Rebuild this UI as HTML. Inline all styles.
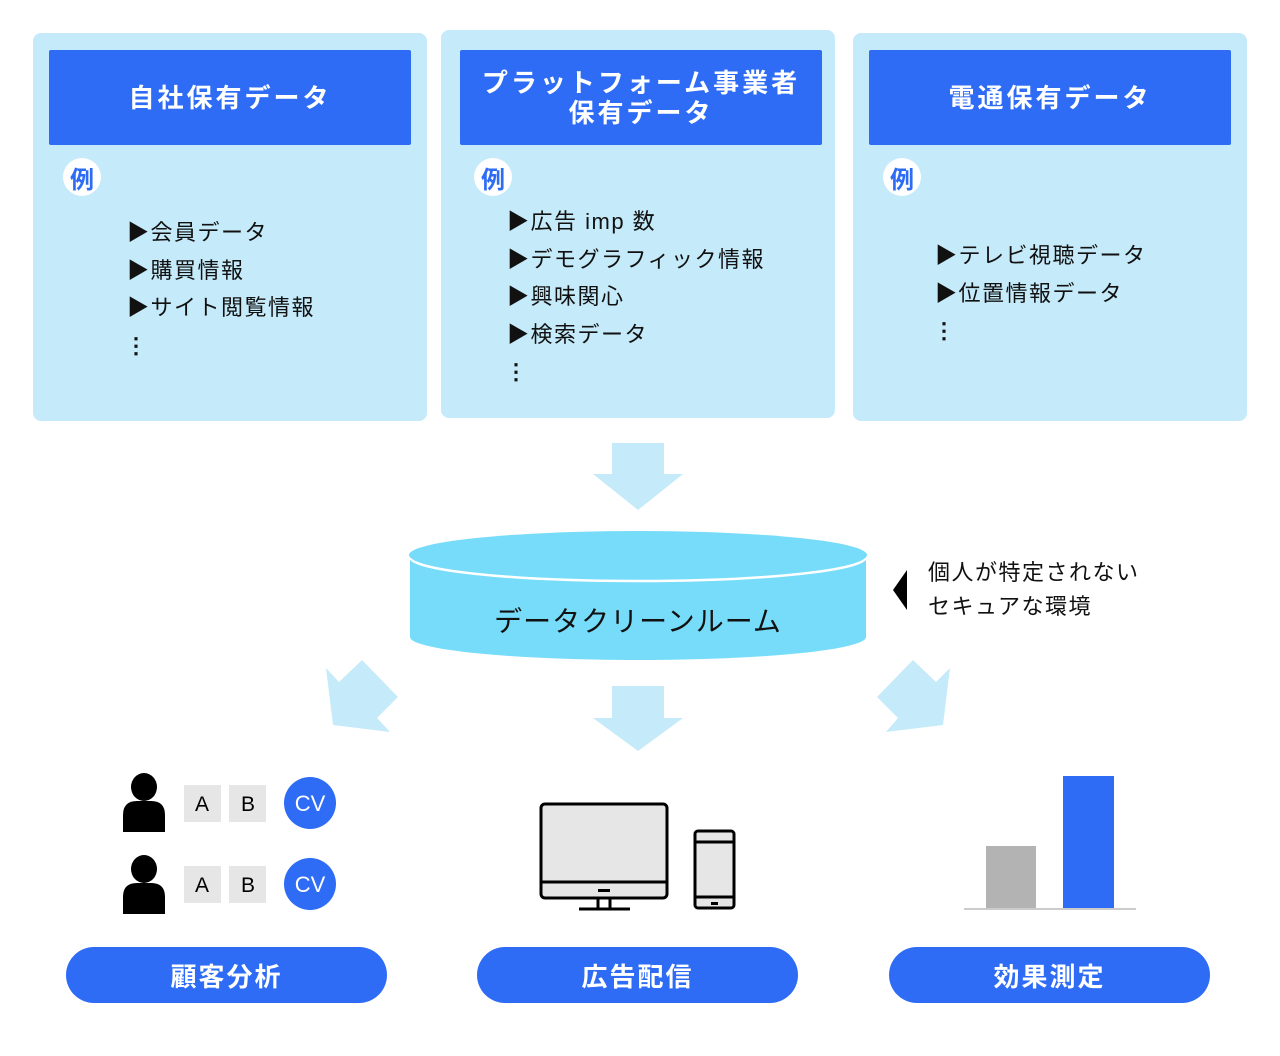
<!DOCTYPE html>
<html><head><meta charset="utf-8"><style>
body{margin:0;width:1280px;height:1056px;background:#fff;position:relative;font-family:"Liberation Sans","Noto Sans CJK JP",sans-serif;overflow:hidden}
.a{position:absolute}
.panel{position:absolute;background:#c5eaf9;border-radius:8px}
.hdr{position:absolute;background:#2e6cf6;color:#fff;font-weight:bold;font-size:26px;letter-spacing:3px;display:flex;align-items:center;justify-content:center;text-align:center;line-height:30px;border-radius:2px}
.rei{position:absolute;width:38px;height:38px;border-radius:50%;background:#fff;color:#2e6cf6;font-size:24px;font-weight:bold;display:flex;align-items:center;justify-content:center}
.list{position:absolute;font-size:22px;line-height:37.5px;letter-spacing:1.5px;color:#111}
.dots{font-weight:bold;margin-left:-2px}
.pill{position:absolute;height:56px;border-radius:28px;background:#2e6cf6;color:#fff;font-size:26px;font-weight:bold;letter-spacing:2px;display:flex;align-items:center;justify-content:center}
</style></head><body>
<div class="panel" style="left:33px;top:33px;width:394px;height:388px"></div>
<div class="panel" style="left:441px;top:30px;width:394px;height:388px"></div>
<div class="panel" style="left:853px;top:33px;width:394px;height:388px"></div>
<div class="hdr" style="left:49px;top:50px;width:362px;height:95px">自社保有データ</div>
<div class="hdr" style="left:460px;top:50px;width:362px;height:95px">プラットフォーム事業者<br>保有データ</div>
<div class="hdr" style="left:869px;top:50px;width:362px;height:95px">電通保有データ</div>
<div class="rei" style="left:63px;top:158px">例</div>
<div class="rei" style="left:474px;top:158px">例</div>
<div class="rei" style="left:883px;top:158px">例</div>
<div class="list" style="left:127px;top:214px">▶会員データ<br>▶購買情報<br>▶サイト閲覧情報<br><span class="dots">⋮</span></div>
<div class="list" style="left:507px;top:203px">▶広告 imp 数<br>▶デモグラフィック情報<br>▶興味関心<br>▶検索データ<br><span class="dots">⋮</span></div>
<div class="list" style="left:935px;top:237px">▶テレビ視聴データ<br>▶位置情報データ<br><span class="dots">⋮</span></div>
<svg class="a" style="left:0;top:0" width="1280" height="1056">
<polygon points="612,443 664,443 664,474 683,474 638,510 593,474 612,474" fill="#c5eaf9"/>
<polygon points="612,686 664,686 664,718 683,718 638,751 593,718 612,718" fill="#c5eaf9"/>
<polygon points="326,668 339,682 362,660 398,697 377,718 390,732 333,725" fill="#c5eaf9"/>
<polygon points="913,660 936,682 950,668 943,725 886,732 898,718 877,697" fill="#c5eaf9"/>
<path d="M410,557 L410,637 A228,23 0 0 0 866,637 L866,557 Z" fill="#77dcf9"/>
<ellipse cx="638" cy="557" rx="228" ry="24" fill="#77dcf9" stroke="#fff" stroke-width="2.5"/>
<ellipse cx="638" cy="555" rx="229" ry="24" fill="#77dcf9"/>
<polygon points="907,570 907,610 893,590" fill="#000"/>
<g fill="#000">
<ellipse cx="144" cy="787" rx="13" ry="14"/><path d="M123,832 L123,815 Q123,801 137,801 L151,801 Q165,801 165,815 L165,832 Z"/>
<ellipse cx="144" cy="869" rx="13" ry="14"/><path d="M123,914 L123,897 Q123,883 137,883 L151,883 Q165,883 165,897 L165,914 Z"/>
</g>
<g fill="#e6e6e6"><rect x="184" y="785" width="37" height="37"/><rect x="229" y="785" width="37" height="37"/><rect x="184" y="866" width="37" height="37"/><rect x="229" y="866" width="37" height="37"/></g>
<g font-size="21" text-anchor="middle" fill="#000"><text x="202" y="811">A</text><text x="248" y="811">B</text><text x="202" y="892">A</text><text x="248" y="892">B</text></g>
<circle cx="310" cy="803" r="26" fill="#2e6cf6"/><circle cx="310" cy="884" r="26" fill="#2e6cf6"/>
<g font-size="22" text-anchor="middle" fill="#fff"><text x="310" y="811">CV</text><text x="310" y="892">CV</text></g>
<rect x="541" y="804" width="126" height="94" rx="4" fill="#e6e6e6" stroke="#000" stroke-width="3"/>
<line x1="541" y1="882" x2="667" y2="882" stroke="#000" stroke-width="3"/>
<rect x="598" y="889" width="12" height="3" fill="#000"/>
<path d="M598,898 V909 M610,898 V909 M579,909 H630" stroke="#000" stroke-width="3"/>
<rect x="695" y="831" width="39" height="77" rx="3" fill="#e6e6e6" stroke="#000" stroke-width="3"/>
<path d="M695,842 H734 M695,897 H734" stroke="#000" stroke-width="3"/>
<rect x="711" y="902" width="7" height="3" fill="#000"/>
<rect x="986" y="846" width="50" height="63" fill="#b3b3b3"/>
<rect x="1063" y="776" width="51" height="133" fill="#2e6cf6"/>
<line x1="964" y1="909" x2="1136" y2="909" stroke="#ccc" stroke-width="2"/>
</svg>
<div class="a" style="left:410px;top:600px;width:456px;text-align:center;font-size:28px;letter-spacing:1px;color:#111">データクリーンルーム</div>
<div class="a" style="left:928px;top:556px;font-size:22px;line-height:34px;letter-spacing:1.5px;color:#111">個人が特定されない<br>セキュアな環境</div>
<div class="pill" style="left:66px;top:947px;width:321px">顧客分析</div>
<div class="pill" style="left:477px;top:947px;width:321px">広告配信</div>
<div class="pill" style="left:889px;top:947px;width:321px">効果測定</div>
</body></html>
